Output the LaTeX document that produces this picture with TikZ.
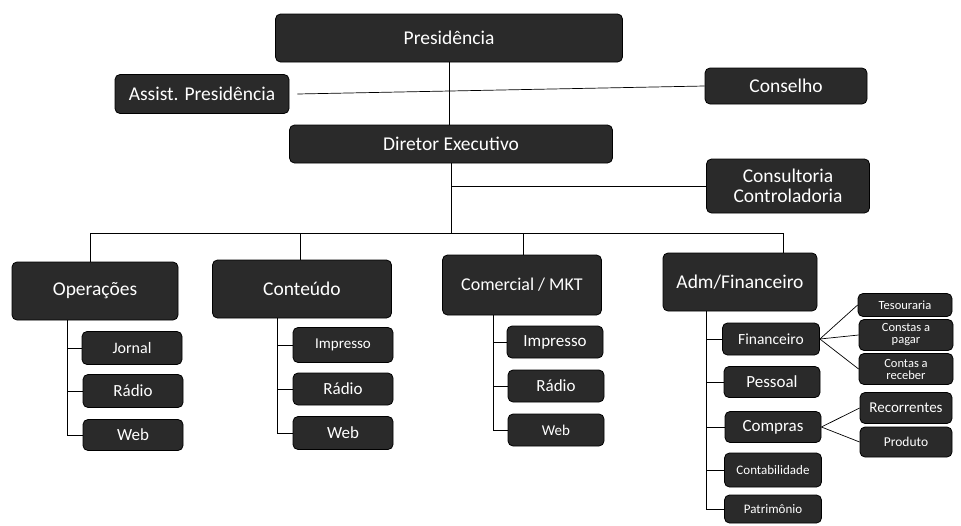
\documentclass[tikz,border=0pt]{standalone}
\usepackage{fontspec}
\setmainfont{Carlito}
\definecolor{boxfill}{RGB}{42,42,42}
\tikzset{
  orgbox/.style={draw=black, fill=boxfill, rounded corners=5pt, text=white, inner sep=0pt, align=center, line width=0.8pt},
  big/.style={orgbox, font=\fontsize{19.5}{21}\selectfont},
  mid/.style={orgbox, font=\fontsize{17}{18}\selectfont},
  small/.style={orgbox, font=\fontsize{13}{13}\selectfont},
  conn/.style={draw=black, line width=0.7pt}
}
\begin{document}
\begin{tikzpicture}[x=1pt,y=-1pt]
\useasboundingbox (0,0) rectangle (961,525);
% top level
\node[big, minimum width=347pt, minimum height=48pt] (pres) at (449,38) {Presidência};
\node[big, minimum width=174pt, minimum height=39pt] (assist) at (202,94) {Assist. Presidência};
\node[big, minimum width=162pt, minimum height=36pt] (cons) at (786,86) {Conselho};
\node[big, minimum width=323pt, minimum height=38pt] (dir) at (451,144) {Diretor Executivo};
\node[big, minimum width=163pt, minimum height=54pt, font=\fontsize{19.5}{20}\selectfont] (consult) at (788,186) {Consultoria\\Controladoria};
% departments
\node[big, minimum width=166pt, minimum height=58pt] (oper) at (95,291) {Operações};
\node[big, minimum width=179pt, minimum height=58pt] (cont) at (302,289) {Conteúdo};
\node[big, minimum width=159pt, minimum height=60pt, font=\fontsize{18}{19}\selectfont] (com) at (522,285) {Comercial / MKT};
\node[big, minimum width=154pt, minimum height=58pt] (adm) at (740,282) {Adm/Financeiro};
% Operacoes children
\node[mid, minimum width=100pt, minimum height=33pt, font=\fontsize{16}{17}\selectfont] (jornal) at (132,348) {Jornal};
\node[mid, minimum width=100pt, minimum height=33pt] (orad) at (133,391) {Rádio};
\node[mid, minimum width=100pt, minimum height=31pt] (oweb) at (133,435) {Web};
% Conteudo children
\node[mid, minimum width=100pt, minimum height=35pt, font=\fontsize{15}{16}\selectfont] (cimp) at (343,345) {Impresso};
\node[mid, minimum width=100pt, minimum height=32pt] (crad) at (343,389) {Rádio};
\node[mid, minimum width=100pt, minimum height=33pt] (cweb) at (343,433) {Web};
% Comercial children
\node[mid, minimum width=96pt, minimum height=32pt] (mimp) at (555,342) {Impresso};
\node[mid, minimum width=96pt, minimum height=32pt] (mrad) at (556,386) {Rádio};
\node[mid, minimum width=96pt, minimum height=32pt, font=\fontsize{15}{16}\selectfont] (mweb) at (556,430) {Web};
% Adm children
\node[mid, minimum width=97pt, minimum height=32pt, font=\fontsize{15.5}{16}\selectfont] (fin) at (771,339) {Financeiro};
\node[mid, minimum width=96pt, minimum height=31pt] (pes) at (772,382) {Pessoal};
\node[mid, minimum width=96pt, minimum height=31pt] (comp) at (773,427) {Compras};
\node[small, minimum width=97pt, minimum height=34pt] (contab) at (773,470) {Contabilidade};
\node[small, minimum width=97pt, minimum height=28pt] (pat) at (773,509) {Patrimônio};
% Financeiro children
\node[small, minimum width=94pt, minimum height=23pt, font=\fontsize{12.5}{13}\selectfont] (tes) at (905,305) {Tesouraria};
\node[small, minimum width=94pt, minimum height=31pt, font=\fontsize{12.5}{12}\selectfont] (pagar) at (906,335) {Constas a\\pagar};
\node[small, minimum width=94pt, minimum height=31pt, font=\fontsize{12.5}{12}\selectfont] (receber) at (906,369) {Contas a\\receber};
% Compras children
\node[mid, minimum width=92pt, minimum height=31pt, font=\fontsize{15}{16}\selectfont] (rec) at (906,408) {Recorrentes};
\node[small, minimum width=92pt, minimum height=30pt, font=\fontsize{13.5}{14}\selectfont] (prod) at (906,442) {Produto};
% connectors top
\draw[conn] (pres.south) -- (pres.south |- dir.north);
\draw[conn] (assist.east) ++(8,0) coordinate (aline) -- (cons.west);
\coordinate (b1) at (90,233);
\coordinate (b2) at (300,233);
\coordinate (b3) at (523,233);
\coordinate (b4) at (783,233);
\draw[conn] (dir.south) -- (dir.south |- b1);
\draw[conn] (dir.south |- consult.west) -- (consult.west);
\draw[conn] (b1) -- (b4);
\draw[conn] (b1) -- (b1 |- oper.north);
\draw[conn] (b2) -- (b2 |- cont.north);
\draw[conn] (b3) -- (b3 |- com.north);
\draw[conn] (b4) -- (b4 |- adm.north);
% spines
\coordinate (s1) at (67,0);
\draw[conn] (s1 |- oper.south) -- (s1 |- oweb.west) -- (oweb.west);
\draw[conn] (s1 |- jornal.west) -- (jornal.west);
\draw[conn] (s1 |- orad.west) -- (orad.west);
\coordinate (s2) at (277,0);
\draw[conn] (s2 |- cont.south) -- (s2 |- cweb.west) -- (cweb.west);
\draw[conn] (s2 |- cimp.west) -- (cimp.west);
\draw[conn] (s2 |- crad.west) -- (crad.west);
\coordinate (s3) at (493,0);
\draw[conn] (s3 |- com.south) -- (s3 |- mweb.west) -- (mweb.west);
\draw[conn] (s3 |- mimp.west) -- (mimp.west);
\draw[conn] (s3 |- mrad.west) -- (mrad.west);
\coordinate (s4) at (706,0);
\draw[conn] (s4 |- adm.south) -- (s4 |- pat.west) -- (pat.west);
\draw[conn] (s4 |- fin.west) -- (fin.west);
\draw[conn] (s4 |- pes.west) -- (pes.west);
\draw[conn] (s4 |- comp.west) -- (comp.west);
\draw[conn] (s4 |- contab.west) -- (contab.west);
% fans
\draw[conn] (fin.east) -- (tes.west);
\draw[conn] (fin.east) -- (pagar.west);
\draw[conn] (fin.east) -- (receber.west);
\draw[conn] (comp.east) -- (rec.west);
\draw[conn] (comp.east) -- (prod.west);
\end{tikzpicture}
\end{document}
